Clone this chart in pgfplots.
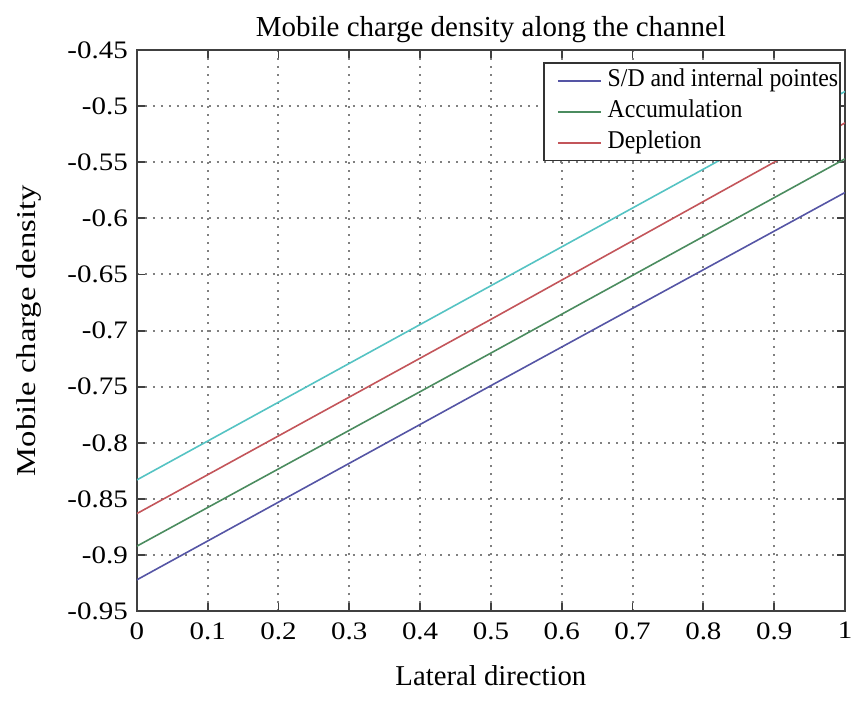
\documentclass[border=0pt]{standalone}
\usepackage{fontspec}
\setmainfont{Liberation Serif}
\newfontfamily\tickfont{Liberation Serif}[FakeStretch=1.15]
\newfontfamily\ylabfont{Liberation Serif}[FakeStretch=1.2]
\newfontfamily\legfont{Liberation Serif}[FakeStretch=0.93]
\usepackage{pgfplots}
\pgfplotsset{compat=1.18}
\definecolor{cblue}{RGB}{85,85,165}
\definecolor{cgreen}{RGB}{75,140,95}
\definecolor{cred}{RGB}{195,85,90}
\definecolor{ccyan}{RGB}{85,195,195}
\begin{document}
\begin{tikzpicture}
\begin{axis}[
  name=ax,
  scale only axis,
  width=354.5pt, height=281pt,
  xmin=0, xmax=1, ymin=-0.95, ymax=-0.45,
  xtick={0,0.1,...,1.01},
  xticklabels={0,0.1,0.2,0.3,0.4,0.5,0.6,0.7,0.8,0.9,1},
  ytick={-0.95,-0.9,...,-0.449},
  yticklabels={-0.95,-0.9,-0.85,-0.8,-0.75,-0.7,-0.65,-0.6,-0.55,-0.5,-0.45},
  tick align=inside,
  tick pos=both,
  major tick length=4pt,
  axis line style={draw=black!75, line width=0.9pt},
  tick style={black!75, line width=0.9pt},
  grid=major,
  major grid style={dash pattern=on 1pt off 3pt, line width=1pt, black!50},
  ticklabel style={font=\tickfont\fontsize{12.6pt}{15pt}\selectfont},
  xticklabel style={yshift=-2pt},
  yticklabel style={xshift=-1pt},
  title={Mobile charge density along the channel},
  title style={font=\fontsize{14.5pt}{17pt}\selectfont, yshift=-6pt},
  xlabel={Lateral direction},
  ylabel={Mobile charge density},
  xlabel style={font=\fontsize{14.4pt}{17pt}\selectfont, yshift=-6pt},
  ylabel style={font=\ylabfont\fontsize{13.6pt}{16pt}\selectfont, yshift=6pt},
  legend style={at={([xshift=-2pt,yshift=-6pt]rel axis cs:1,1)}, anchor=north east,
    draw=black!80, line width=0.8pt,
    font=\legfont\fontsize{12.8pt}{15pt}\selectfont,
    inner xsep=1pt, inner ysep=3pt,
    nodes={inner sep=0pt, text height=9pt, text depth=3pt},
    row sep=3.5pt, column sep=0pt,
    legend cell align=left},
  legend image code/.code={\draw[#1, line width=0.9pt] (5.5pt,0pt) -- (27pt,0pt); \path (0pt,0pt) (30pt,0pt);},
]
\addplot[cblue, line width=0.8pt] coordinates {(0,-0.922) (0.5,-0.749) (1,-0.577)};
\addlegendentry{S/D and internal pointes}
\addplot[cgreen, line width=0.8pt] coordinates {(0,-0.892) (0.5,-0.720) (1,-0.547)};
\addlegendentry{Accumulation}
\addplot[cred, line width=0.8pt] coordinates {(0,-0.863) (0.5,-0.690) (1,-0.515)};
\addlegendentry{Depletion}
\addplot[ccyan, line width=0.8pt, forget plot] coordinates {(0,-0.833) (0.5,-0.660) (1,-0.487)};
\end{axis}
\pgfresetboundingbox
\path ([xshift=-68.5pt,yshift=-44.5pt]ax.south west) rectangle ([xshift=3.5pt,yshift=25pt]ax.north east);
\end{tikzpicture}
\end{document}
